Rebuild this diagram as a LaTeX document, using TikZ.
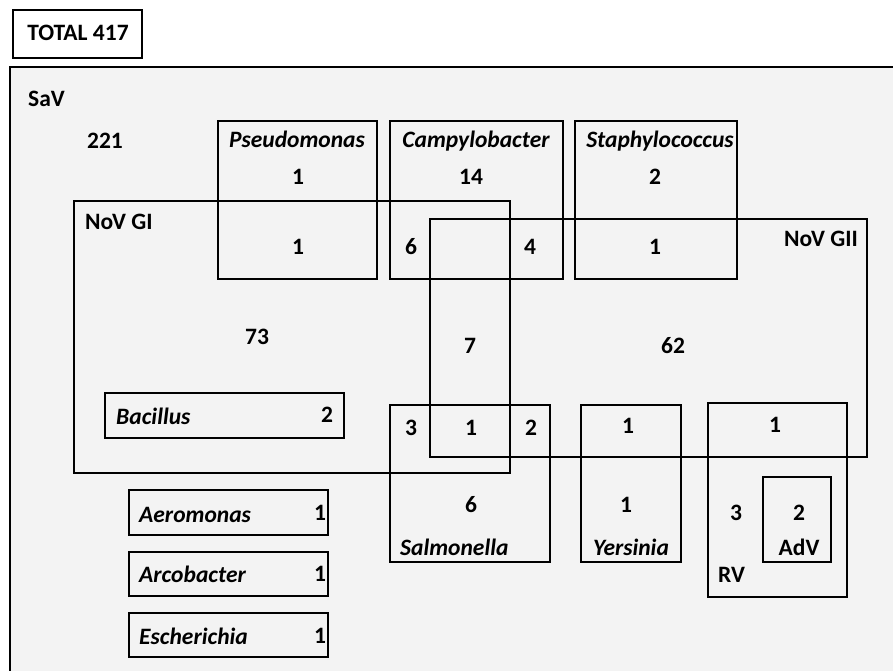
\documentclass[tikz,border=0pt]{standalone}
\usepackage{fontspec}
\setmainfont{Carlito}
\definecolor{savfill}{RGB}{243,243,243}
\tikzset{
  box/.style={draw=black, line width=2.4pt},
  lbl/.style={inner sep=0pt, anchor=base, font=\fontsize{23.5}{26}\selectfont\bfseries},
  gen/.style={lbl, font=\fontsize{23.5}{26}\selectfont\bfseries\itshape},
}
\begin{document}
\begin{tikzpicture}[x=1pt,y=-1pt]
\useasboundingbox (0,0) rectangle (893,671);
\clip (0,0) rectangle (893,671);
% outer SaV region
\draw[box, fill=savfill] (10,67) rectangle (905,690);
% TOTAL
\draw[box] (13,10) rectangle (142,58);
\node[lbl] (total) at (78,41) {TOTAL 417};
% boxes
\draw[box] (74,201) rectangle (510,473);      % NoV GI
\draw[box] (430,219) rectangle (867,457);     % NoV GII
\draw[box] (218,121) rectangle (377,279);     % Pseudomonas
\draw[box] (390,121) rectangle (563,279);     % Campylobacter
\draw[box] (575,121) rectangle (737,279);     % Staphylococcus
\draw[box] (390,405) rectangle (550,562);     % Salmonella
\draw[box] (581,405) rectangle (681,562);     % Yersinia
\draw[box] (708,403) rectangle (847,597);     % RV
\draw[box] (763,477) rectangle (831,562);     % AdV
\draw[box] (105,393) rectangle (344,438);     % Bacillus
\draw[box] (129,490) rectangle (328,535);     % Aeromonas
\draw[box] (129,552) rectangle (328,596);     % Arcobacter
\draw[box] (129,613) rectangle (328,657);     % Escherichia
% labels
\node[lbl, anchor=base west] (sav) at (28,107) {SaV};
\node[lbl] (n221) at (105,149) {221};
\node[lbl, anchor=base west] (novgi) at (85,229) {NoV GI};
\node[lbl, anchor=base east] (novgii) at (858,246) {NoV GII};
\node[gen] (pseu) at (297,148) {Pseudomonas};
\node[lbl] (pseu1) at (298,185) {1};
\node[lbl] (pseu2) at (298,254) {1};
\node[gen] (camp) at (476,148) {Campylobacter};
\node[lbl] (camp14) at (471,185) {14};
\node[lbl] (camp6) at (411,254) {6};
\node[lbl] (camp4) at (530,254) {4};
\node[gen] (staph) at (660,148) {Staphylococcus};
\node[lbl] (staph2) at (655,185) {2};
\node[lbl] (staph1) at (655,254) {1};
\node[lbl] (n73) at (257,344) {73};
\node[lbl] (n7) at (470,353) {7};
\node[lbl] (n62) at (673,353) {62};
\node[gen, anchor=base west] (bac) at (116,424) {Bacillus};
\node[lbl] (bac2) at (327,422) {2};
\node[lbl] (sal3) at (411,435) {3};
\node[lbl] (sal1) at (471,435) {1};
\node[lbl] (sal2) at (531,435) {2};
\node[lbl] (sal6) at (471,512) {6};
\node[gen, anchor=base west] (sal) at (400,555) {Salmonella};
\node[lbl] (yer1a) at (628,433) {1};
\node[lbl] (yer1b) at (626,512) {1};
\node[gen] (yer) at (631,555) {Yersinia};
\node[lbl] (rv1) at (775,432) {1};
\node[lbl] (rv3) at (736,520) {3};
\node[lbl, anchor=base west] (rv) at (718,582) {RV};
\node[lbl] (adv2) at (799,520) {2};
\node[lbl] (adv) at (799,555) {AdV};
\node[gen, anchor=base west] (aer) at (139,522) {Aeromonas};
\node[lbl] (aer1) at (320,520) {1};
\node[gen, anchor=base west] (arc) at (139,582) {Arcobacter};
\node[lbl] (arc1) at (320,581) {1};
\node[gen, anchor=base west] (esc) at (139,644) {Escherichia};
\node[lbl] (esc1) at (320,643) {1};
\end{tikzpicture}
\end{document}
